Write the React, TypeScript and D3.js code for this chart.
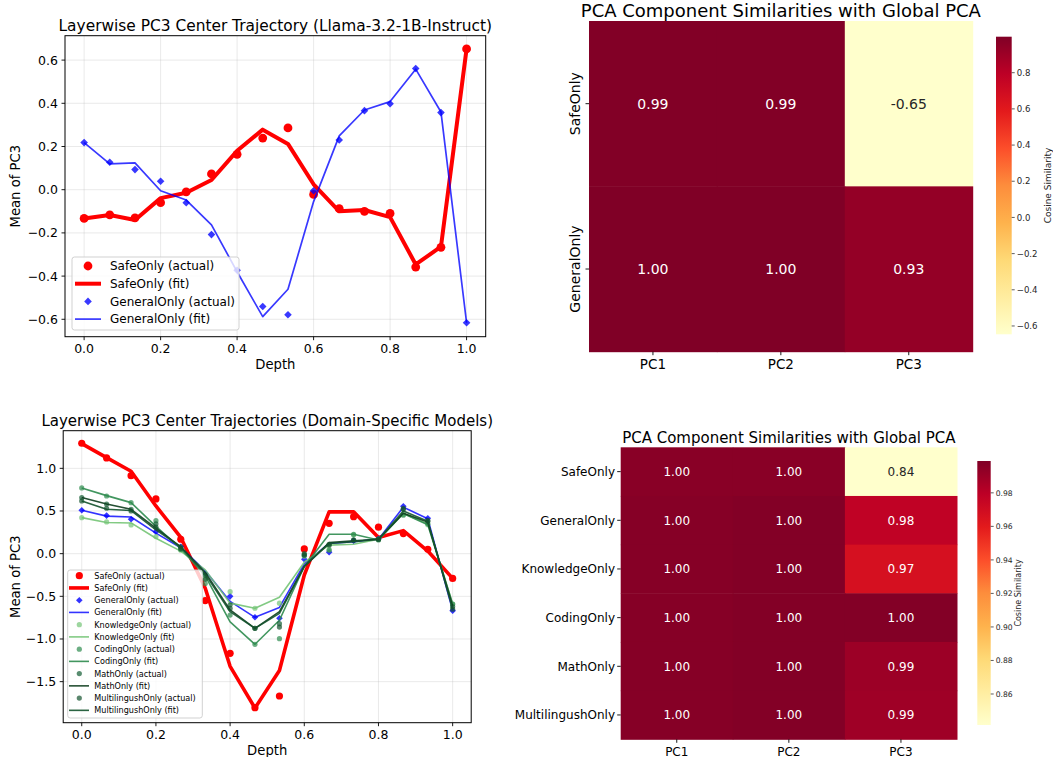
import React from "react";
import * as d3 from "d3";

// ---------------- DATA ----------------
const depth = [0, 0.067, 0.133, 0.2, 0.267, 0.333, 0.4, 0.467, 0.533, 0.6, 0.667, 0.733, 0.8, 0.867, 0.933, 1.0];

// Top-left: Llama-3.2-1B-Instruct
const llamaSafeActual = [-0.133, -0.117, -0.13, -0.06, -0.01, 0.073, 0.164, 0.239, 0.286, -0.022, -0.088, -0.1, -0.11, -0.358, -0.267, 0.652];
const llamaSafeFit = [-0.133, -0.117, -0.14, -0.039, -0.014, 0.045, 0.18, 0.278, 0.212, 0.025, -0.1, -0.094, -0.127, -0.346, -0.264, 0.652];
const llamaGeneralActual = [0.218, 0.127, 0.093, 0.039, -0.06, -0.208, -0.373, -0.541, -0.579, -0.005, 0.23, 0.366, 0.398, 0.561, 0.357, -0.616];
const llamaGeneralFit = [0.218, 0.12, 0.124, -0.005, -0.048, -0.163, -0.38, -0.588, -0.461, -0.055, 0.249, 0.369, 0.408, 0.558, 0.36, -0.616];

// Bottom-left: domain-specific models
const safeActual = [1.294, 1.122, 0.914, 0.641, 0.169, -0.55, -1.168, -1.805, -1.668, 0.055, 0.356, 0.434, 0.31, 0.235, 0.051, -0.29];
const safeFit = [1.29, 1.125, 0.966, 0.559, 0.19, -0.406, -1.32, -1.81, -1.37, -0.25, 0.49, 0.49, 0.19, 0.27, 0.031, -0.29];
const generalActual = [0.508, 0.446, 0.403, 0.258, 0.08, -0.23, -0.5, -0.746, -0.757, -0.066, 0.016, 0.15, 0.175, 0.555, 0.415, -0.668];
const generalFit = [0.508, 0.44, 0.43, 0.24, 0.07, -0.2, -0.56, -0.746, -0.63, -0.12, 0.12, 0.14, 0.17, 0.545, 0.41, -0.668];
const knowledgeActual = [0.422, 0.372, 0.336, 0.2, 0.04, -0.29, -0.445, -0.64, -0.58, -0.03, 0.05, 0.22, 0.17, 0.46, 0.34, -0.59];
const knowledgeFit = [0.422, 0.365, 0.36, 0.18, 0.03, -0.19, -0.58, -0.64, -0.51, -0.1, 0.1, 0.11, 0.17, 0.47, 0.35, -0.59];
const codingActual = [0.77, 0.676, 0.598, 0.387, 0.05, -0.35, -0.72, -1.062, -0.996, -0.02, 0.04, 0.227, 0.16, 0.45, 0.35, -0.59];
const codingFit = [0.77, 0.68, 0.598, 0.32, 0.06, -0.26, -0.8, -1.062, -0.78, -0.15, 0.227, 0.227, 0.16, 0.47, 0.34, -0.59];
const mathActual = [0.657, 0.582, 0.52, 0.35, 0.08, -0.25, -0.6, -0.875, -0.82, 0.0, 0.1, 0.16, 0.169, 0.52, 0.38, -0.62];
const mathFit = [0.657, 0.582, 0.52, 0.3, 0.08, -0.22, -0.66, -0.875, -0.68, -0.15, 0.13, 0.15, 0.169, 0.474, 0.37, -0.62];
const multiActual = [0.618, 0.532, 0.5, 0.31, 0.06, -0.3, -0.64, -0.875, -0.86, -0.015, 0.11, 0.16, 0.17, 0.53, 0.39, -0.65];
const multiFit = [0.618, 0.52, 0.505, 0.28, 0.08, -0.24, -0.68, -0.875, -0.7, -0.15, 0.12, 0.14, 0.17, 0.5, 0.38, -0.65];

const xTicks = [0, 0.2, 0.4, 0.6, 0.8, 1.0];
const topYTicks = [-0.6, -0.4, -0.2, 0, 0.2, 0.4, 0.6];
const bottomYTicks = [-1.5, -1.0, -0.5, 0, 0.5, 1.0];

// Heatmaps
const pcLabels = ["PC1", "PC2", "PC3"];
const topRows = ["SafeOnly", "GeneralOnly"];
const topValues = [
  [0.993, 0.992, -0.646],
  [0.999, 0.998, 0.93],
];
const topCbTicks = [-0.6, -0.4, -0.2, 0.0, 0.2, 0.4, 0.6, 0.8];

const bottomRows = ["SafeOnly", "GeneralOnly", "KnowledgeOnly", "CodingOnly", "MathOnly", "MultilingushOnly"];
const bottomValues = [
  [0.996, 0.996, 0.8415],
  [0.997, 0.998, 0.978],
  [0.997, 0.998, 0.967],
  [0.997, 0.998, 0.998],
  [0.997, 0.998, 0.99],
  [0.997, 0.998, 0.989],
];
const bottomCbTicks = [0.86, 0.88, 0.9, 0.92, 0.94, 0.96, 0.98];

const YLORRD = ["#ffffcc", "#ffeda0", "#fed976", "#feb24c", "#fd8d3c", "#fc4e2a", "#e31a1c", "#bd0026", "#800026"];

// ---------------- HELPERS ----------------
const FONT = "DejaVu Sans, Verdana, sans-serif";
const fmtTick = (v: number, d: number) => {
  const s = Math.abs(v).toFixed(d);
  return (v < -1e-9 ? "\u2212" : "") + s;
};

function makeColor(min: number, max: number) {
  const stops = YLORRD.map((_, i) => min + ((max - min) * i) / (YLORRD.length - 1));
  return d3.scaleLinear<string>().domain(stops).range(YLORRD).interpolate(d3.interpolateRgb).clamp(true);
}

function diamondPath(cx: number, cy: number, r: number) {
  return `M${cx},${cy - r}L${cx + r},${cy}L${cx},${cy + r}L${cx - r},${cy}Z`;
}

type Series = {
  name: string;
  actual: number[];
  fit: number[];
  lineColor: string;
  lineWidth: number;
  lineOpacity: number;
  markerColor: string;
  markerOpacity: number;
  marker: "circle" | "diamond";
  markerR: number;
};

type ChartProps = {
  x0: number; x1: number; y0: number; y1: number;
  yDomain: [number, number];
  yTicks: number[];
  yDec: number;
  series: Series[];
  title: string; titleY: number; titleSize: number;
  xLabelY: number; yLabelX: number;
  tickSize: number; labelSize: number;
  legend: { x: number; y: number; w: number; h: number; lineX0: number; lineX1: number; markerX: number; textX: number; rowY0: number; rowDy: number; font: number; markerScale: number };
};

function LineChart(p: ChartProps) {
  const x = d3.scaleLinear().domain([-0.05, 1.05]).range([p.x0, p.x1]);
  const y = d3.scaleLinear().domain(p.yDomain).range([p.y1, p.y0]);
  const line = d3.line<number>().x((_, i) => x(depth[i])).y((d) => y(d));
  const cx = (p.x0 + p.x1) / 2;
  const cy = (p.y0 + p.y1) / 2;
  const L = p.legend;

  const renderMarker = (s: Series, px: number, py: number, r: number, key: any) =>
    s.marker === "circle" ? (
      <circle key={key} cx={px} cy={py} r={r} fill={s.markerColor} fillOpacity={s.markerOpacity} />
    ) : (
      <path key={key} d={diamondPath(px, py, r)} fill={s.markerColor} fillOpacity={s.markerOpacity} />
    );

  return (
    <g fontFamily={FONT}>
      {xTicks.map((t) => (
        <line key={"gx" + t} x1={x(t)} x2={x(t)} y1={p.y0} y2={p.y1} stroke="#b0b0b0" strokeOpacity={0.3} strokeWidth={0.9} />
      ))}
      {p.yTicks.map((t) => (
        <line key={"gy" + t} x1={p.x0} x2={p.x1} y1={y(t)} y2={y(t)} stroke="#b0b0b0" strokeOpacity={0.3} strokeWidth={0.9} />
      ))}
      {p.series.map((s, si) => (
        <g key={"s" + si}>
          {s.actual.map((v, i) => renderMarker(s, x(depth[i]), y(v), s.markerR, i))}
          <path d={line(s.fit) || ""} fill="none" stroke={s.lineColor} strokeWidth={s.lineWidth} strokeOpacity={s.lineOpacity} strokeLinejoin="round" />
        </g>
      ))}
      <rect x={p.x0} y={p.y0} width={p.x1 - p.x0} height={p.y1 - p.y0} fill="none" stroke="black" strokeWidth={1} />
      {xTicks.map((t) => (
        <g key={"xt" + t}>
          <line x1={x(t)} x2={x(t)} y1={p.y1} y2={p.y1 + 3.5} stroke="black" strokeWidth={0.9} />
          <text x={x(t)} y={p.y1 + 16} fontSize={p.tickSize} textAnchor="middle" fill="black">{fmtTick(t, 1)}</text>
        </g>
      ))}
      {p.yTicks.map((t) => (
        <g key={"yt" + t}>
          <line x1={p.x0 - 3.5} x2={p.x0} y1={y(t)} y2={y(t)} stroke="black" strokeWidth={0.9} />
          <text x={p.x0 - 7} y={y(t)} dy="0.36em" fontSize={p.tickSize} textAnchor="end" fill="black">{fmtTick(t, p.yDec)}</text>
        </g>
      ))}
      <text x={cx} y={p.xLabelY} fontSize={p.labelSize} textAnchor="middle">Depth</text>
      <text transform={`translate(${p.yLabelX},${cy}) rotate(-90)`} dy="0.36em" fontSize={p.labelSize} textAnchor="middle">Mean of PC3</text>
      <text x={cx} y={p.titleY} fontSize={p.titleSize} textAnchor="middle">{p.title}</text>
      <rect x={L.x} y={L.y} width={L.w} height={L.h} rx={2.5} fill="white" fillOpacity={0.8} stroke="#cccccc" strokeWidth={0.9} />
      {p.series.flatMap((s, si) => {
        const ya = L.rowY0 + L.rowDy * (2 * si);
        const yf = L.rowY0 + L.rowDy * (2 * si + 1);
        return [
          <g key={"la" + si}>
            {renderMarker(s, L.markerX, ya, s.markerR * L.markerScale, "m")}
            <text x={L.textX} y={ya} dy="0.36em" fontSize={L.font}>{s.name + " (actual)"}</text>
          </g>,
          <g key={"lf" + si}>
            <line x1={L.lineX0} x2={L.lineX1} y1={yf} y2={yf} stroke={s.lineColor} strokeWidth={s.lineWidth} strokeOpacity={s.lineOpacity} />
            <text x={L.textX} y={yf} dy="0.36em" fontSize={L.font}>{s.name + " (fit)"}</text>
          </g>,
        ];
      })}
    </g>
  );
}

type HeatProps = {
  x0: number; x1: number; y0: number; y1: number;
  rows: string[]; values: number[][];
  vmin: number; vmax: number;
  rotateRows: boolean;
  rowLabelX: number; rowSize: number; colSize: number; colLabelY: number;
  cellSize: number;
  title: string; titleY: number; titleSize: number;
  cb: { x0: number; x1: number; y0: number; y1: number; ticks: number[]; dec: number; tickSize: number; label: string; labelX: number; labelSize: number };
  id: string;
};

function Heatmap(p: HeatProps) {
  const color = makeColor(p.vmin, p.vmax);
  const xb = d3.scaleBand().domain(pcLabels).range([p.x0, p.x1]);
  const yb = d3.scaleBand().domain(p.rows).range([p.y0, p.y1]);
  const cbY = d3.scaleLinear().domain([p.vmin, p.vmax]).range([p.cb.y1, p.cb.y0]);
  const cx = (p.x0 + p.x1) / 2;
  const lum = (c: string) => {
    const r = d3.rgb(c);
    const f = (v: number) => {
      const s = v / 255;
      return s <= 0.03928 ? s / 12.92 : Math.pow((s + 0.055) / 1.055, 2.4);
    };
    return 0.2126 * f(r.r) + 0.7152 * f(r.g) + 0.0722 * f(r.b);
  };
  return (
    <g fontFamily={FONT}>
      <defs>
        <linearGradient id={p.id} x1="0" y1="1" x2="0" y2="0">
          {YLORRD.map((c, i) => (
            <stop key={i} offset={i / (YLORRD.length - 1)} stopColor={c} />
          ))}
        </linearGradient>
      </defs>
      {p.rows.map((r, ri) =>
        pcLabels.map((c, ci) => {
          const v = p.values[ri][ci];
          const fill = color(v);
          return (
            <g key={r + c}>
              <rect x={xb(c)!} y={yb(r)!} width={xb.bandwidth() + 0.5} height={yb.bandwidth() + 0.5} fill={fill} />
              <text x={xb(c)! + xb.bandwidth() / 2} y={yb(r)! + yb.bandwidth() / 2} dy="0.36em" textAnchor="middle" fontSize={p.cellSize} fill={lum(fill) > 0.408 ? "#262626" : "white"}>
                {v.toFixed(2)}
              </text>
            </g>
          );
        })
      )}
      {pcLabels.map((c) => {
        const xc = xb(c)! + xb.bandwidth() / 2;
        return (
          <g key={"c" + c}>
            <line x1={xc} x2={xc} y1={p.y1} y2={p.y1 + 3.5} stroke="black" strokeWidth={0.9} />
            <text x={xc} y={p.colLabelY} fontSize={p.colSize} textAnchor="middle">{c}</text>
          </g>
        );
      })}
      {p.rows.map((r) => {
        const yc = yb(r)! + yb.bandwidth() / 2;
        return (
          <g key={"r" + r}>
            <line x1={p.x0 - 3.5} x2={p.x0} y1={yc} y2={yc} stroke="black" strokeWidth={0.9} />
            {p.rotateRows ? (
              <text transform={`translate(${p.rowLabelX},${yc}) rotate(-90)`} dy="0.36em" fontSize={p.rowSize} textAnchor="middle">{r}</text>
            ) : (
              <text x={p.rowLabelX} y={yc} dy="0.36em" fontSize={p.rowSize} textAnchor="end">{r}</text>
            )}
          </g>
        );
      })}
      <text x={cx} y={p.titleY} fontSize={p.titleSize} textAnchor="middle">{p.title}</text>
      <rect x={p.cb.x0} y={p.cb.y0} width={p.cb.x1 - p.cb.x0} height={p.cb.y1 - p.cb.y0} fill={`url(#${p.id})`} />
      {p.cb.ticks.map((t) => (
        <g key={"cb" + t}>
          <line x1={p.cb.x1} x2={p.cb.x1 + 3} y1={cbY(t)} y2={cbY(t)} stroke="#333" strokeWidth={0.8} />
          <text x={p.cb.x1 + 5} y={cbY(t)} dy="0.36em" fontSize={p.cb.tickSize} fill="#262626">{fmtTick(t, p.cb.dec)}</text>
        </g>
      ))}
      <text transform={`translate(${p.cb.labelX},${(p.cb.y0 + p.cb.y1) / 2}) rotate(-90)`} dy="0.36em" fontSize={p.cb.labelSize} textAnchor="middle" fill="#262626">{p.cb.label}</text>
    </g>
  );
}

// ---------------- APP ----------------
export default function App() {
  const topSeries: Series[] = [
    { name: "SafeOnly", actual: llamaSafeActual, fit: llamaSafeFit, lineColor: "#ff0000", lineWidth: 4, lineOpacity: 1, markerColor: "#ff0000", markerOpacity: 1, marker: "circle", markerR: 4.4 },
    { name: "GeneralOnly", actual: llamaGeneralActual, fit: llamaGeneralFit, lineColor: "#0000ff", lineWidth: 1.7, lineOpacity: 0.78, markerColor: "#0000ff", markerOpacity: 0.78, marker: "diamond", markerR: 3.8 },
  ];
  const bottomSeries: Series[] = [
    { name: "SafeOnly", actual: safeActual, fit: safeFit, lineColor: "#ff0000", lineWidth: 3.6, lineOpacity: 1, markerColor: "#ff0000", markerOpacity: 1, marker: "circle", markerR: 3.6 },
    { name: "GeneralOnly", actual: generalActual, fit: generalFit, lineColor: "#0000ff", lineWidth: 1.6, lineOpacity: 0.8, markerColor: "#0000ff", markerOpacity: 0.8, marker: "diamond", markerR: 3.3 },
    { name: "KnowledgeOnly", actual: knowledgeActual, fit: knowledgeFit, lineColor: "#74c476", lineWidth: 1.6, lineOpacity: 0.9, markerColor: "#74c476", markerOpacity: 0.7, marker: "circle", markerR: 2.6 },
    { name: "CodingOnly", actual: codingActual, fit: codingFit, lineColor: "#2e8b4e", lineWidth: 1.6, lineOpacity: 0.9, markerColor: "#2e8b4e", markerOpacity: 0.7, marker: "circle", markerR: 2.6 },
    { name: "MathOnly", actual: mathActual, fit: mathFit, lineColor: "#0e3d1e", lineWidth: 1.6, lineOpacity: 0.9, markerColor: "#135c33", markerOpacity: 0.7, marker: "circle", markerR: 2.6 },
    { name: "MultilingushOnly", actual: multiActual, fit: multiFit, lineColor: "#14532d", lineWidth: 1.6, lineOpacity: 0.9, markerColor: "#14532d", markerOpacity: 0.7, marker: "circle", markerR: 2.6 },
  ];

  return (
    <svg width={1053} height={757} viewBox="0 0 1053 757" style={{ position: "absolute", left: 0, top: 0, background: "white" }}>
      <rect width={1053} height={757} fill="white" />
      <LineChart
        x0={65} x1={485.7} y0={35.7} y1={336.7}
        yDomain={[-0.6806, 0.713]} yTicks={topYTicks} yDec={1}
        series={topSeries}
        title="Layerwise PC3 Center Trajectory (Llama-3.2-1B-Instruct)" titleY={30.5} titleSize={15.4}
        xLabelY={369} yLabelX={15} tickSize={12.5} labelSize={13.2}
        legend={{ x: 72, y: 257, w: 167, h: 73, lineX0: 75, lineX1: 101, markerX: 88, textX: 110, rowY0: 266, rowDy: 17.7, font: 12, markerScale: 1 }}
      />
      <LineChart
        x0={63.2} x1={471.2} y0={430.7} y1={722.7}
        yDomain={[-1.981, 1.441]} yTicks={bottomYTicks} yDec={1}
        series={bottomSeries}
        title="Layerwise PC3 Center Trajectories (Domain-Specific Models)" titleY={426} titleSize={15}
        xLabelY={755} yLabelX={15} tickSize={12.5} labelSize={13.2}
        legend={{ x: 67.7, y: 570, w: 134.6, h: 148, lineX0: 69, lineX1: 89, markerX: 79.3, textX: 94.3, rowY0: 575.7, rowDy: 12.24, font: 8.1, markerScale: 1 }}
      />
      <Heatmap
        id="cbTop"
        x0={589} x1={972.7} y0={21} y1={351.7}
        rows={topRows} values={topValues} vmin={-0.646} vmax={0.999}
        rotateRows={true} rowLabelX={575} rowSize={14} colSize={13.5} colLabelY={369}
        cellSize={14}
        title="PCA Component Similarities with Global PCA" titleY={16.5} titleSize={18}
        cb={{ x0: 996, x1: 1011.7, y0: 36.7, y1: 334.3, ticks: topCbTicks, dec: 1, tickSize: 8.6, label: "Cosine Similarity", labelX: 1047.7, labelSize: 9 }}
      />
      <Heatmap
        id="cbBottom"
        x0={620.7} x1={957} y0={447.3} y1={739.3}
        rows={bottomRows} values={bottomValues} vmin={0.8415} vmax={0.999}
        rotateRows={false} rowLabelX={615} rowSize={12} colSize={12} colLabelY={755.5}
        cellSize={12}
        title="PCA Component Similarities with Global PCA" titleY={442.5} titleSize={15}
        cb={{ x0: 977.3, x1: 990.7, y0: 461, y1: 725, ticks: bottomCbTicks, dec: 2, tickSize: 7.6, label: "Cosine Similarity", labelX: 1018.3, labelSize: 8 }}
      />
    </svg>
  );
}
